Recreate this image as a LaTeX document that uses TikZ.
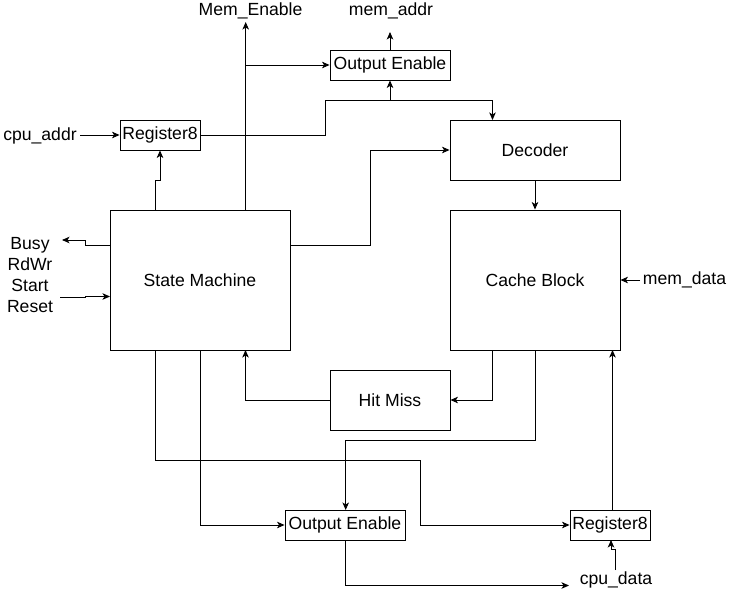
\documentclass[tikz,border=0pt]{standalone}
\usepackage{fontspec}
\setmainfont{Liberation Sans}
\usetikzlibrary{arrows.meta}
\begin{document}
\begin{tikzpicture}[x=1pt,y=-1pt,
  font=\fontsize{17.6}{21}\selectfont,
  every path/.style={line width=0.9pt},
  blk/.style={draw=black, line width=0.9pt, inner sep=0pt, anchor=center},
  lbl/.style={inner sep=2pt, anchor=center, align=center},
  arr/.style={-{Stealth[length=7.5pt,width=6.5pt,inset=2pt]}}]
\fill[white] (0,0) rectangle (731,594);
\useasboundingbox (0,0) rectangle (731,594);
% blocks
\node[blk, minimum width=80pt,  minimum height=30pt]  (rega) at (160,135) {Register8};
\node[blk, minimum width=120pt, minimum height=30pt]  (oea)  at (390,65)  {Output Enable};
\node[blk, minimum width=170pt, minimum height=60pt]  (dec)  at (535,150) {Decoder};
\node[blk, minimum width=180pt, minimum height=140pt] (sm)   at (200,280) {State Machine};
\node[blk, minimum width=170pt, minimum height=140pt] (cb)   at (535,280) {Cache Block};
\node[blk, minimum width=120pt, minimum height=60pt]  (hm)   at (390,400) {Hit Miss};
\node[blk, minimum width=120pt, minimum height=30pt]  (oeb)  at (345,525) {Output Enable};
\node[blk, minimum width=80pt,  minimum height=30pt]  (regb) at (610,525) {Register8};
% labels
\node[lbl] (memen)   at (250.5,11)  {Mem\_Enable};
\node[lbl] (memaddr) at (391,11)    {mem\_addr};
\node[lbl] (cpuaddr) at (40,135.5)  {cpu\_addr};
\node[lbl] (sig)     at (30,275.5)  {Busy\\RdWr\\Start\\Reset};
\node[lbl] (memdata) at (684.5,280) {mem\_data};
\node[lbl] (cpudata) at (616,580)   {cpu\_data};
% connectors
\draw[arr] (80,135) -- (rega.west);
\draw[arr] (155,210) -- (155,180) -- (160,180) -- (rega.south);
\draw (rega.east) -- (325.7,135) -- (325.7,100) -- (390,100);
\draw[arr] (390,100) -- (oea.south);
\draw[arr] (390,100) -- (492.5,100) -- (492.5,120);
\draw[arr] (245.7,210) -- (245.7,22);
\draw[arr] (245.7,65) -- (oea.west);
\draw[arr] (oea.north) -- (390,32);
\draw[arr] (290,245) -- (370.7,245) -- (370.7,150) -- (dec.west);
\draw[arr] (dec.south) -- (cb.north);
\draw[arr] (640,280) -- (cb.east);
\draw[arr] (492.5,350) -- (492.5,400) -- (hm.east);
\draw[arr] (hm.west) -- (245.5,400) -- (245.5,350);
\draw[arr] (535,350) -- (535,440) -- (345.7,440) -- (345.7,510);
\draw[arr] (155,350) -- (155,460) -- (420.4,460) -- (420.4,525) -- (regb.west);
\draw[arr] (200,350) -- (200,525) -- (oeb.west);
\draw[arr] (345.7,540) -- (345.7,585.5) -- (569,585.5);
\draw[arr] (612.5,510) -- (612.5,350);
\draw[arr] (615.7,570) -- (615.7,549.5) -- (611,549.5) -- (611,540);
\draw[arr] (110,245) -- (85.7,245) -- (85.7,240) -- (62,240);
\draw[arr] (60,297.5) -- (85.7,297.5) -- (85.7,296.5) -- (110,296.5);
\end{tikzpicture}
\end{document}
